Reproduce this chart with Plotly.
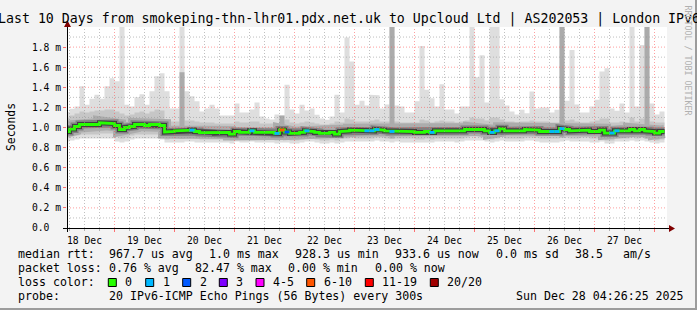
import plotly.graph_objects as go
from datetime import datetime, timedelta

# ---------------- data (2-hour steps starting 18 Dec 04:00) ----------------
median_ms = [
    0.960, 0.984, 1.010, 1.030, 1.030, 1.030, 1.030, 1.047, 1.040, 1.040,
    1.020, 0.980, 1.000, 1.010, 1.030, 1.030, 1.020, 1.030, 1.030, 1.020,
    0.955, 0.960, 0.967, 0.967, 0.967, 0.974, 0.960, 0.950, 0.951, 0.951,
    0.945, 0.951, 0.951, 0.935, 0.960, 0.951, 0.951, 0.967, 0.951, 0.951,
    0.951, 0.951, 0.941, 0.975, 0.955, 0.941, 0.941, 0.951, 0.967, 0.960,
    0.951, 0.941, 0.941, 0.951, 0.935, 0.960, 0.967, 0.974, 0.967, 0.967,
    0.967, 0.967, 0.980, 0.974, 0.967, 0.960, 0.967, 0.960, 0.960, 0.960,
    0.951, 0.951, 0.960, 0.951, 0.967, 0.967, 0.967, 0.967, 0.960, 0.967,
    0.980, 0.987, 0.987, 0.980, 0.967, 0.951, 0.967, 0.987, 0.967, 0.967,
    0.967, 0.967, 0.980, 0.980, 0.974, 0.960, 0.960, 0.960, 0.960, 0.990,
    0.980, 0.967, 0.967, 0.974, 0.974, 0.960, 0.960, 0.974, 0.945, 0.945,
    0.967, 0.967, 0.967, 0.980, 0.967, 0.980, 0.967, 0.960, 0.945, 0.960,
]
loss_pings = [
    0, 0, 0, 0, 0, 0, 0, 0, 0, 0,
    0, 0, 0, 0, 0, 0, 0, 0, 0, 0,
    0, 0, 0, 0, 0, 1, 0, 0, 0, 0,
    0, 0, 0, 0, 0, 0, 0, 1, 0, 0,
    0, 0, 1, 8, 2, 0, 0, 0, 1, 0,
    0, 0, 0, 0, 0, 0, 0, 0, 0, 0,
    1, 1, 1, 0, 0, 1, 0, 0, 0, 0,
    0, 0, 0, 1, 0, 0, 0, 0, 0, 0,
    0, 0, 0, 0, 0, 1, 1, 0, 0, 0,
    0, 0, 0, 0, 0, 0, 0, 1, 1, 1,
    0, 0, 0, 0, 0, 0, 0, 0, 0, 1,
    1, 0, 0, 0, 0, 0, 0, 0, 0, 0,
]
smoke_max = [
    1.153, 1.186, 1.210, 1.410, 1.226, 1.285, 1.325, 1.285, 1.410, 1.490,
    1.460, 2.000, 1.226, 1.210, 1.300, 1.330, 1.226, 1.360, 1.510, 1.540,
    1.360, 1.190, 1.190, 2.000, 1.360, 1.310, 1.260, 1.160, 1.190, 1.226,
    1.190, 1.120, 1.120, 1.120, 1.240, 1.150, 1.150, 1.180, 1.250, 1.110,
    1.090, 1.080, 1.130, 1.120, 1.425, 1.180, 1.140, 1.226, 1.170, 1.190,
    1.126, 1.090, 1.077, 1.110, 1.325, 1.150, 1.896, 1.657, 1.226, 1.266,
    1.220, 1.325, 1.320, 1.190, 1.230, 2.000, 1.220, 1.210, 1.150, 1.150,
    1.260, 1.810, 1.375, 1.290, 1.210, 1.430, 1.180, 1.180, 1.140, 1.210,
    1.210, 2.000, 1.500, 1.720, 1.250, 2.000, 2.000, 1.280, 1.220, 1.160,
    1.130, 1.176, 1.143, 1.358, 1.190, 1.200, 1.200, 1.150, 1.176, 2.000,
    1.266, 1.770, 1.230, 1.150, 1.150, 1.210, 1.275, 1.557, 1.590, 1.190,
    1.166, 1.240, 1.150, 2.000, 1.210, 1.820, 2.000, 1.240, 1.130, 1.160,
]
smoke_hi = [
    1.10, 1.12, 1.14, 1.16, 1.15, 1.16, 1.17, 1.17, 1.18, 1.18,
    1.16, 1.14, 1.12, 1.13, 1.15, 1.16, 1.14, 1.16, 1.18, 1.17,
    1.07, 1.06, 1.06, 1.10, 1.07, 1.07, 1.06, 1.05, 1.05, 1.05,
    1.04, 1.04, 1.04, 1.04, 1.06, 1.05, 1.05, 1.06, 1.06, 1.04,
    1.04, 1.04, 1.04, 1.06, 1.08, 1.05, 1.04, 1.05, 1.06, 1.05,
    1.04, 1.03, 1.03, 1.04, 1.06, 1.05, 1.09, 1.08, 1.06, 1.06,
    1.06, 1.07, 1.08, 1.06, 1.06, 1.06, 1.06, 1.05, 1.05, 1.05,
    1.05, 1.08, 1.07, 1.05, 1.06, 1.07, 1.06, 1.06, 1.05, 1.06,
    1.07, 1.10, 1.09, 1.09, 1.07, 1.10, 1.10, 1.08, 1.06, 1.06,
    1.05, 1.06, 1.06, 1.07, 1.06, 1.06, 1.06, 1.05, 1.05, 1.08,
    1.07, 1.08, 1.06, 1.05, 1.05, 1.06, 1.07, 1.09, 1.09, 1.05,
    1.05, 1.06, 1.05, 1.10, 1.06, 1.09, 1.08, 1.06, 1.05, 1.05,
]
smoke_lo = [
    0.90, 0.91, 0.92, 0.93, 0.93, 0.93, 0.93, 0.94, 0.94, 0.94,
    0.91, 0.89, 0.90, 0.92, 0.93, 0.93, 0.93, 0.93, 0.93, 0.92,
    0.88, 0.89, 0.89, 0.89, 0.89, 0.90, 0.89, 0.88, 0.88, 0.88,
    0.88, 0.88, 0.88, 0.87, 0.89, 0.88, 0.88, 0.89, 0.88, 0.88,
    0.88, 0.88, 0.87, 0.88, 0.88, 0.87, 0.87, 0.88, 0.89, 0.89,
    0.88, 0.87, 0.87, 0.88, 0.87, 0.89, 0.89, 0.90, 0.89, 0.89,
    0.89, 0.89, 0.90, 0.90, 0.89, 0.89, 0.89, 0.89, 0.89, 0.89,
    0.88, 0.88, 0.89, 0.88, 0.89, 0.89, 0.89, 0.89, 0.89, 0.89,
    0.90, 0.91, 0.91, 0.90, 0.89, 0.88, 0.89, 0.91, 0.89, 0.89,
    0.89, 0.89, 0.90, 0.90, 0.90, 0.89, 0.89, 0.89, 0.89, 0.90,
    0.90, 0.89, 0.89, 0.90, 0.90, 0.89, 0.89, 0.90, 0.87, 0.87,
    0.89, 0.89, 0.89, 0.90, 0.89, 0.90, 0.89, 0.89, 0.87, 0.88,
]
smoke_min = [
    0.86, 0.87, 0.88, 0.89, 0.89, 0.89, 0.89, 0.89, 0.89, 0.89,
    0.86, 0.85, 0.86, 0.88, 0.89, 0.89, 0.89, 0.89, 0.89, 0.88,
    0.85, 0.85, 0.85, 0.85, 0.86, 0.86, 0.85, 0.85, 0.85, 0.85,
    0.85, 0.85, 0.85, 0.84, 0.86, 0.85, 0.85, 0.86, 0.85, 0.85,
    0.85, 0.85, 0.84, 0.85, 0.85, 0.84, 0.84, 0.85, 0.86, 0.86,
    0.85, 0.84, 0.84, 0.85, 0.84, 0.85, 0.86, 0.86, 0.86, 0.86,
    0.86, 0.86, 0.87, 0.86, 0.86, 0.85, 0.86, 0.85, 0.85, 0.85,
    0.85, 0.85, 0.85, 0.85, 0.86, 0.86, 0.86, 0.86, 0.85, 0.86,
    0.87, 0.87, 0.87, 0.87, 0.86, 0.85, 0.86, 0.87, 0.86, 0.86,
    0.86, 0.86, 0.87, 0.87, 0.86, 0.85, 0.85, 0.85, 0.85, 0.86,
    0.87, 0.86, 0.86, 0.86, 0.86, 0.85, 0.85, 0.86, 0.84, 0.84,
    0.86, 0.86, 0.86, 0.87, 0.86, 0.87, 0.86, 0.85, 0.84, 0.85,
]
dark_steps = [23, 43, 65, 99, 116]
dark_tops = [1.55, 1.12, 2.00, 2.00, 2.00]

loss_upper = [0, 1, 2, 3, 5, 10, 19, 20]
loss_labels = ["0", "1", "2", "3", "4-5", "6-10", "11-19", "20/20"]
loss_colors = ["#26ff00", "#00b8ff", "#0059ff", "#7e00ff", "#ff00ff", "#ff5500", "#ff0000", "#a10000"]

y_tick_vals = [0.0, 0.2, 0.4, 0.6, 0.8, 1.0, 1.2, 1.4, 1.6, 1.8]
y_tick_text = ["0.0\u00a0\u00a0", "0.2 m", "0.4 m", "0.6 m", "0.8 m", "1.0 m", "1.2 m", "1.4 m", "1.6 m", "1.8 m"]

title_text = "Last 10 Days from smokeping-thn-lhr01.pdx.net.uk to Upcloud Ltd | AS202053 | London IPv6"
legend_rows = [
    [("median rtt:", 16), ("967.7 us avg", 107.3), ("1.0 ms max", 207.3), ("928.3 us min", 292.7),
     ("933.6 us now", 392.7), ("0.0 ms sd", 493.7), ("38.5", 572.7), ("am/s", 621)],
    [("packet loss:", 16), ("0.76 % avg", 107.3), ("82.47 % max", 193.3), ("0.00 % min", 286),
     ("0.00 % now", 373)],
    [("loss color:", 16)],
    [("probe:", 16), ("20 IPv6-ICMP Echo Pings (56 Bytes) every 300s", 107.3),
     ("Sun Dec 28 04:26:25 2025", 513.7)],
]
legend_row_y = [254.3, 268.3, 282.3, 296.0]
loss_box_x = [108.3, 145.7, 182.7, 219.3, 256.0, 306.7, 365.3, 430.3]

# ---------------- layout geometry ----------------
W, H = 697, 310
ML, MR, MT, MB = 67, 30, 27, 82
PW, PH = W - ML - MR, H - MT - MB
MONO = "DejaVu Sans Mono"


def fx(p):
    return (p - ML) / PW


def fy(p):
    return (H - MB - p) / PH


T0 = datetime(2025, 12, 18, 4, 0)
STEP = timedelta(hours=2)
N = len(median_ms)
edges = [T0 + STEP * i for i in range(N + 1)]
X_START = datetime(2025, 12, 18, 5, 0)
X_END = datetime(2025, 12, 28, 5, 0)


def step_xy(vals):
    xs, ys = [], []
    for i, v in enumerate(vals):
        xs += [edges[i], edges[i + 1]]
        ys += [v, v]
    return xs, ys


fig = go.Figure()


def band(lo, hi, color):
    x, yl = step_xy(lo)
    _, yh = step_xy(hi)
    fig.add_trace(go.Scatter(x=x, y=yl, mode="lines", line=dict(width=0),
                             hoverinfo="skip", showlegend=False))
    fig.add_trace(go.Scatter(x=x, y=yh, mode="lines", line=dict(width=0), fill="tonexty",
                             fillcolor=color, hoverinfo="skip", showlegend=False))


band(smoke_min, smoke_max, "#dedede")
band(smoke_lo, smoke_hi, "#c6c6c6")
dark_hi = list(smoke_lo)
for s, v in zip(dark_steps, dark_tops):
    dark_hi[s] = v
band(smoke_lo, dark_hi, "#ababab")

mx, my = step_xy(median_ms)
for w, c in [(13, "#acacac"), (8, "#808080"), (5, "#404040")]:
    fig.add_trace(go.Scatter(x=mx, y=my, mode="lines", line=dict(width=w, color=c),
                             hoverinfo="skip", showlegend=False))
fig.add_trace(go.Scatter(x=mx, y=my, mode="lines", line=dict(width=2.8, color=loss_colors[0]),
                         hoverinfo="skip", showlegend=False))


def loss_class(n):
    for k, up in enumerate(loss_upper):
        if n <= up:
            return k
    return len(loss_upper) - 1


for k in range(1, len(loss_upper)):
    xs, ys = [], []
    for i, (m, l) in enumerate(zip(median_ms, loss_pings)):
        if l > 0 and loss_class(l) == k:
            xs += [edges[i], edges[i + 1], None]
            ys += [m, m, None]
    if xs:
        fig.add_trace(go.Scatter(x=xs, y=ys, mode="lines", line=dict(width=2.8, color=loss_colors[k]),
                                 hoverinfo="skip", showlegend=False))

shapes = []
# horizontal grid (drawn above the smoke like rrdtool)
for k in range(1, 20):
    v = k / 10
    col = "rgba(255,80,80,0.55)" if k % 2 == 0 else "rgba(150,150,150,0.6)"
    shapes.append(dict(type="line", xref="paper", yref="y", x0=0, x1=1, y0=v, y1=v,
                       line=dict(color=col, width=1, dash="1px,2px"), layer="above"))
# vertical grid every 6 hours, red at midnight
t = datetime(2025, 12, 18, 6, 0)
while t < X_END:
    col = "rgba(255,80,80,0.55)" if t.hour == 0 else "rgba(150,150,150,0.6)"
    shapes.append(dict(type="line", xref="x", yref="paper", x0=t, x1=t, y0=0, y1=1,
                       line=dict(color=col, width=1, dash="1px,2px"), layer="above"))
    t += timedelta(hours=6)

# axis lines with arrows
shapes.append(dict(type="line", xref="paper", yref="paper", x0=fx(63), x1=fx(671), y0=fy(228.5), y1=fy(228.5),
                   line=dict(color="#000000", width=1), layer="above"))
shapes.append(dict(type="line", xref="paper", yref="paper", x0=fx(67.5), x1=fx(67.5), y0=fy(232), y1=fy(24),
                   line=dict(color="#000000", width=1), layer="above"))
shapes.append(dict(type="path", xref="paper", yref="paper",
                   path=f"M {fx(669)} {fy(225)} L {fx(675)} {fy(228.5)} L {fx(669)} {fy(232)} Z",
                   fillcolor="#800000", line=dict(width=0), layer="above"))
shapes.append(dict(type="path", xref="paper", yref="paper",
                   path=f"M {fx(64)} {fy(27)} L {fx(67.5)} {fy(20.5)} L {fx(71)} {fy(27)} Z",
                   fillcolor="#800000", line=dict(width=0), layer="above"))

# frame 3D border
shapes.append(dict(type="rect", xref="paper", yref="paper", x0=fx(0), x1=fx(697), y0=fy(308), y1=fy(310),
                   fillcolor="#9c9c9c", line=dict(width=0)))
shapes.append(dict(type="rect", xref="paper", yref="paper", x0=fx(695), x1=fx(697), y0=fy(0), y1=fy(310),
                   fillcolor="#9c9c9c", line=dict(width=0)))

# loss colour boxes
for bx, c in zip(loss_box_x, loss_colors):
    shapes.append(dict(type="rect", xref="paper", yref="paper", x0=fx(bx), x1=fx(bx + 8), y0=fy(286.5), y1=fy(278.5),
                       fillcolor=c, line=dict(color="#000000", width=1)))

annotations = []
annotations.append(dict(text=title_text, xref="paper", yref="paper", x=fx(348.5), y=fy(19.3),
                        xanchor="center", yanchor="middle", showarrow=False,
                        font=dict(family=MONO, size=13.25, color="#000000")))
for row, yy in zip(legend_rows, legend_row_y):
    for txt, xx in row:
        annotations.append(dict(text=txt, xref="paper", yref="paper", x=fx(xx), y=fy(yy),
                                xanchor="left", yanchor="middle", showarrow=False,
                                font=dict(family=MONO, size=11.6, color="#000000")))
for bx, lab in zip(loss_box_x, loss_labels):
    annotations.append(dict(text=lab, xref="paper", yref="paper", x=fx(bx + 15), y=fy(legend_row_y[2]),
                            xanchor="left", yanchor="middle", showarrow=False,
                            font=dict(family=MONO, size=11.6, color="#000000")))
annotations.append(dict(text="Seconds", xref="paper", yref="paper", x=fx(11), y=fy(127),
                        xanchor="center", yanchor="middle", textangle=-90, showarrow=False,
                        font=dict(family=MONO, size=11.4, color="#000000")))
annotations.append(dict(text="RRDTOOL / TOBI OETIKER", xref="paper", yref="paper", x=fx(687.5), y=fy(60),
                        xanchor="center", yanchor="middle", textangle=90, showarrow=False,
                        font=dict(family=MONO, size=8.3, color="#b0b0b0")))

fig.update_layout(
    template="none",
    width=W, height=H,
    margin=dict(l=ML, r=MR, t=MT, b=MB, pad=0),
    paper_bgcolor="#f3f3f3",
    plot_bgcolor="#ffffff",
    showlegend=False,
    shapes=shapes,
    annotations=annotations,
)
fig.update_xaxes(
    type="date", range=[X_START, X_END], automargin=False,
    showgrid=False, zeroline=False, showline=False,
    tick0="2025-12-18", dtick=86400000, ticklabelmode="period", tickformat="%d %b",
    ticks="outside", ticklen=3, tickcolor="rgba(255,80,80,0.8)", tickwidth=1,
    minor=dict(tick0="2025-12-18", dtick=6 * 3600000, ticks="outside", ticklen=2,
               tickcolor="#b0b0b0", showgrid=False),
    tickfont=dict(family=MONO, size=9.7, color="#000000"),
)
fig.update_yaxes(
    range=[0, 2.0], automargin=False,
    tickvals=y_tick_vals, ticktext=y_tick_text,
    showgrid=False, zeroline=False, showline=False,
    ticks="outside", ticklen=3, tickcolor="rgba(255,80,80,0.8)", tickwidth=1,
    tickfont=dict(family=MONO, size=9.7, color="#000000"),
)

fig.write_html("out.html")
